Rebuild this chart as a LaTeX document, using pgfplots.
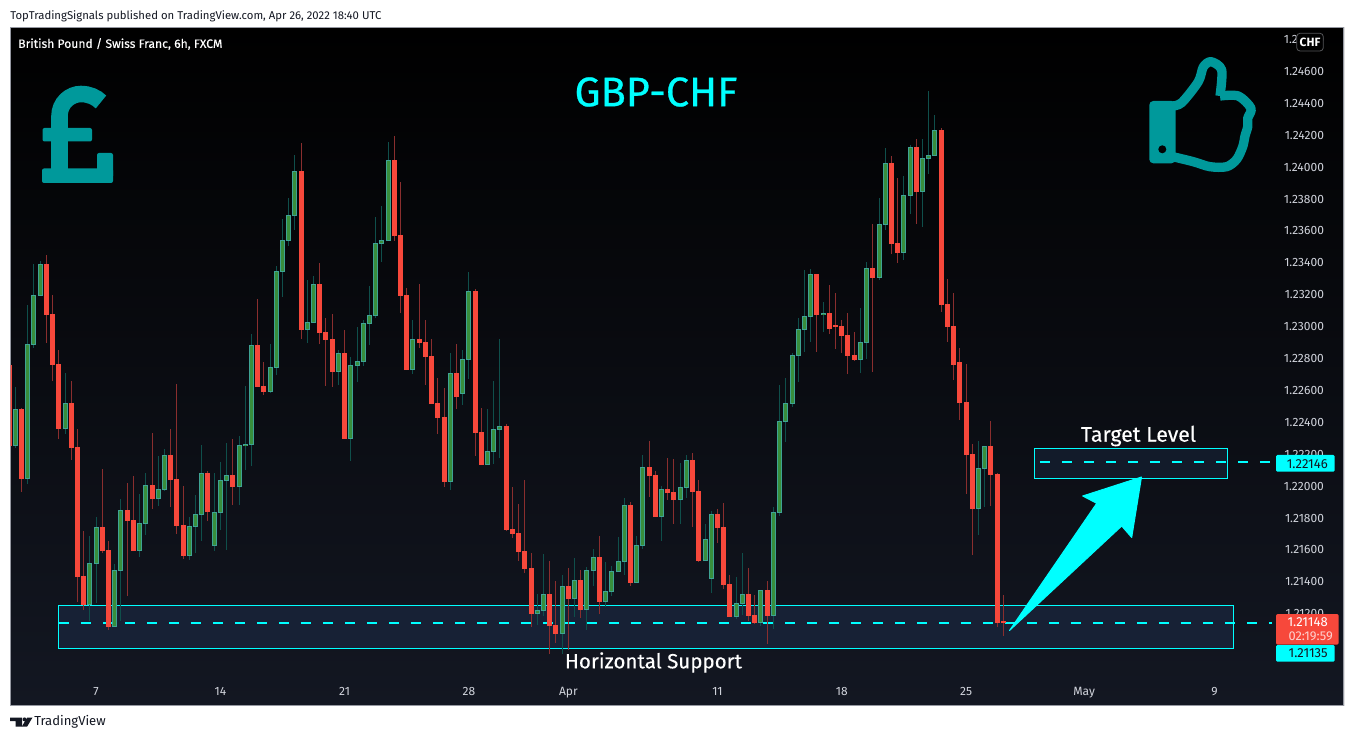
\documentclass[border=0pt]{standalone}
\usepackage{pgfplots}
\usepackage{pgfplotstable}
\pgfplotsset{compat=1.18}
\usepackage{fontspec}
\setmainfont{Fira Sans}
\newfontfamily\medfont[FakeBold=0.25]{Fira Sans}
\newfontfamily\headfont[FakeBold=0.6]{Fira Sans}
\definecolor{tvcyan}{HTML}{00FFFF}
\definecolor{tvteal}{HTML}{00999B}
\definecolor{gwick}{HTML}{0F4F4B}
\definecolor{rwick}{HTML}{8A2E2E}
\definecolor{gedge}{HTML}{3EA394}
\definecolor{gbody}{HTML}{388E3C}
\definecolor{rbody}{HTML}{F7483B}
\definecolor{ink}{HTML}{131722}
\definecolor{ticktext}{HTML}{D1D4DC}
\definecolor{boxA}{HTML}{172135}
\definecolor{boxB}{HTML}{121B2A}
\definecolor{framec}{HTML}{9598A1}
\pgfplotstableread{
i open high low close
0 1.22248 1.22618 1.22235 1.22480
2 1.22043 1.23132 1.22009 1.22885
3 1.22883 1.23389 1.22864 1.23192
4 1.23190 1.23408 1.23190 1.23389
8 1.22354 1.22705 1.22323 1.22515
12 1.21251 1.21683 1.21150 1.21512
13 1.21510 1.21802 1.21263 1.21740
16 1.21113 1.21508 1.21113 1.21470
17 1.21466 1.21915 1.21150 1.21846
20 1.21589 1.21947 1.21552 1.21765
21 1.21759 1.22078 1.21690 1.22003
23 1.21915 1.22185 1.21871 1.21978
24 1.21972 1.22229 1.21966 1.22191
28 1.21558 1.21802 1.21533 1.21746
29 1.21740 1.21940 1.21577 1.21821
30 1.21815 1.22254 1.21652 1.22078
32 1.21621 1.22078 1.21589 1.21834
33 1.21828 1.22147 1.21721 1.22034
34 1.22028 1.22266 1.21596 1.22066
36 1.21991 1.22310 1.21878 1.22254
37 1.22248 1.22624 1.22097 1.22260
38 1.22254 1.22950 1.22122 1.22881
41 1.22586 1.22887 1.22580 1.22743
42 1.22737 1.23376 1.22693 1.23345
43 1.23339 1.23671 1.23182 1.23539
44 1.23533 1.23803 1.23502 1.23696
45 1.23690 1.24072 1.23602 1.23972
47 1.22975 1.23288 1.22893 1.23025
48 1.23019 1.23314 1.23019 1.23263
52 1.22712 1.22850 1.22630 1.22831
54 1.22292 1.22806 1.22154 1.22756
55 1.22749 1.22994 1.22649 1.22781
56 1.22774 1.23038 1.22749 1.23019
57 1.23013 1.23251 1.22881 1.23069
58 1.23063 1.23683 1.23050 1.23520
59 1.23514 1.23752 1.23401 1.23539
60 1.23533 1.24154 1.23533 1.24041
64 1.22724 1.23038 1.22699 1.22919
70 1.22022 1.22831 1.21972 1.22705
72 1.22574 1.22850 1.22505 1.22793
73 1.22787 1.23339 1.22668 1.23220
76 1.22129 1.22480 1.22129 1.22216
77 1.22210 1.22655 1.22135 1.22354
78 1.22348 1.22919 1.22172 1.22373
84 1.21194 1.21320 1.21125 1.21219
85 1.21213 1.21570 1.21182 1.21320
88 1.21069 1.21439 1.20944 1.21370
90 1.21288 1.21545 1.21175 1.21407
92 1.21219 1.21489 1.21094 1.21470
93 1.21464 1.21602 1.21370 1.21552
95 1.21270 1.21520 1.21238 1.21339
96 1.21332 1.21495 1.21307 1.21464
97 1.21458 1.21677 1.21458 1.21527
98 1.21520 1.21922 1.21439 1.21878
100 1.21389 1.21683 1.21389 1.21627
101 1.21621 1.22191 1.21602 1.22116
104 1.21802 1.21997 1.21652 1.21978
107 1.21909 1.22141 1.21759 1.21991
108 1.21984 1.22191 1.21922 1.22160
111 1.21527 1.21759 1.21527 1.21665
112 1.21414 1.21840 1.21326 1.21821
116 1.21175 1.21426 1.21163 1.21263
117 1.21257 1.21577 1.21188 1.21320
120 1.21138 1.21345 1.21119 1.21345
122 1.21182 1.21865 1.21100 1.21834
123 1.21828 1.22630 1.21809 1.22404
124 1.22398 1.22674 1.22273 1.22517
125 1.22511 1.22831 1.22492 1.22818
126 1.22812 1.23050 1.22649 1.22981
127 1.22975 1.23351 1.22837 1.23063
128 1.23056 1.23357 1.22900 1.23326
130 1.23069 1.23151 1.22962 1.23082
136 1.22787 1.23113 1.22705 1.22900
137 1.22893 1.23401 1.22793 1.23364
139 1.23301 1.23803 1.23288 1.23640
140 1.23633 1.24116 1.23602 1.24022
143 1.23458 1.23941 1.23414 1.23821
144 1.23815 1.24135 1.23702 1.24122
146 1.23840 1.24173 1.23621 1.24053
147 1.24047 1.24473 1.23953 1.24072
148 1.24066 1.24323 1.24066 1.24229
155 1.21853 1.22279 1.21690 1.22110
156 1.22103 1.22248 1.21865 1.22248
}\greenbars
\pgfplotstableread{
i open high low close
-1 1.22756 1.22756 1.22248 1.22248
1 1.22480 1.22488 1.21961 1.22041
5 1.23389 1.23445 1.22896 1.23069
6 1.23075 1.23194 1.22655 1.22756
7 1.22762 1.22847 1.22292 1.22354
9 1.22515 1.22655 1.22160 1.22235
10 1.22241 1.22354 1.21270 1.21426
11 1.21433 1.21715 1.21219 1.21251
14 1.21740 1.22103 1.21577 1.21589
15 1.21596 1.21652 1.21094 1.21113
18 1.21846 1.22016 1.21307 1.21777
19 1.21784 1.22060 1.21589 1.21589
22 1.22003 1.22329 1.21853 1.21915
25 1.22191 1.22354 1.21865 1.22034
26 1.22041 1.22636 1.21696 1.21746
27 1.21752 1.21997 1.21539 1.21558
31 1.22078 1.22091 1.21777 1.21834
35 1.22066 1.22292 1.21878 1.21991
39 1.22881 1.23169 1.22618 1.22618
40 1.22624 1.22774 1.22567 1.22586
46 1.23972 1.24147 1.22919 1.22975
49 1.23263 1.23395 1.22887 1.22956
50 1.22962 1.23050 1.22624 1.22912
51 1.22919 1.23075 1.22618 1.22712
53 1.22831 1.22975 1.22292 1.22292
61 1.24041 1.24191 1.23533 1.23564
62 1.23571 1.23903 1.23082 1.23188
63 1.23194 1.23238 1.22724 1.22724
65 1.22919 1.23263 1.22862 1.22893
66 1.22900 1.23038 1.22630 1.22806
67 1.22812 1.22919 1.22511 1.22511
68 1.22517 1.22674 1.22323 1.22423
69 1.22430 1.22611 1.21991 1.22022
71 1.22705 1.22887 1.22480 1.22555
74 1.23220 1.23232 1.22185 1.22329
75 1.22335 1.22486 1.22129 1.22129
79 1.22373 1.22386 1.21715 1.21721
80 1.21727 1.21991 1.21671 1.21696
81 1.21702 1.21884 1.21527 1.21583
82 1.21589 1.22034 1.21451 1.21476
83 1.21483 1.21577 1.21113 1.21194
86 1.21320 1.21527 1.20944 1.21119
87 1.21125 1.21401 1.21012 1.21069
89 1.21370 1.21483 1.20969 1.21288
91 1.21407 1.21470 1.21169 1.21219
94 1.21552 1.21683 1.21194 1.21270
99 1.21878 1.21897 1.21370 1.21389
102 1.22116 1.22279 1.21928 1.22060
103 1.22066 1.22091 1.21802 1.21802
105 1.21978 1.22172 1.21909 1.21953
106 1.21959 1.22166 1.21759 1.21909
109 1.22160 1.22204 1.21740 1.21959
110 1.21966 1.22034 1.21520 1.21527
113 1.21821 1.21853 1.21639 1.21734
114 1.21740 1.21890 1.21351 1.21376
115 1.21382 1.21439 1.21175 1.21175
118 1.21320 1.21483 1.21150 1.21182
119 1.21188 1.21313 1.21132 1.21138
121 1.21345 1.21401 1.21006 1.21182
129 1.23326 1.23326 1.22837 1.23069
131 1.23082 1.23257 1.22950 1.22981
132 1.23006 1.23207 1.22856 1.22994
133 1.23000 1.23038 1.22831 1.22937
134 1.22944 1.23082 1.22699 1.22812
135 1.22818 1.22962 1.22781 1.22787
138 1.23364 1.23640 1.22712 1.23301
141 1.24022 1.24066 1.23451 1.23514
142 1.23520 1.23928 1.23395 1.23458
145 1.24122 1.24173 1.23640 1.23840
149 1.24229 1.24242 1.23088 1.23132
150 1.23138 1.23295 1.22900 1.22994
151 1.23000 1.23207 1.22661 1.22756
152 1.22774 1.22862 1.22411 1.22517
153 1.22524 1.22762 1.21947 1.22191
154 1.22198 1.22260 1.21564 1.21853
157 1.22248 1.22404 1.21871 1.22066
158 1.22072 1.22078 1.21113 1.21138
159 1.21148 1.21313 1.21056 1.21138
}\redbars
\pgfplotsset{
  candle/.style 2 args={draw=none, no marks, forget plot,
    error bars/.cd, y dir=plus, y explicit, error mark=none,
    error bar style={draw=#1, line width=#2}},
}
\tikzset{px/.style={x=0.75pt,y=-0.75pt,shift={(0pt,555pt)}}}
\begin{document}
\begin{tikzpicture}
\path[use as bounding box, fill=white] (0,0) rectangle (1015.5pt,555pt);
\begin{scope}[px]
  \shade[top color=black, bottom color=ink] (10.5,28) rectangle (1344,705);
  \draw[line width=0.75pt, draw=tvcyan, fill=boxA] (58.5,605.5) rectangle (1233.5,648.5);
  \draw[line width=0.75pt, draw=tvcyan, fill=boxB] (1034.5,449) rectangle (1227.5,478.5);
\end{scope}
\begin{axis}[
  at={(7.875pt,26.25pt)}, anchor=south west, scale only axis,
  width=1000.125pt, height=507.75pt,
  xmin=-0.772, xmax=213.82, ymin=1.206238, ymax=1.248683,
  axis line style={draw=framec, line width=0.75pt},
  major tick length=0pt,
  xtick={13,33,53,73,89,113,133,153,172,193},
  xticklabels={7,14,21,28,Apr,11,18,25,May,9},
  xticklabel style={text=ticktext, font=\fontsize{9}{11}\selectfont, yshift=17pt},
  ytick={1.212,1.214,1.216,1.218,1.22,1.222,1.224,1.226,1.228,1.23,1.232,1.234,1.236,1.238,1.24,1.242,1.244,1.246,1.248},
  yticklabel pos=right,
  yticklabel style={text=ticktext, font=\fontsize{9}{11}\selectfont, anchor=east, xshift=-11.5pt, yshift=-0.5pt,
     /pgf/number format/fixed, /pgf/number format/fixed zerofill, /pgf/number format/precision=5,
     /pgf/number format/assume math mode=true},
  scaled y ticks=false,
]
\addplot[forget plot, tvcyan, line width=1.5pt, dash pattern=on 7.5pt off 9pt]
  coordinates {(7.03,1.21135) (202.2,1.21135)};
\addplot[forget plot, tvcyan, line width=1.5pt, dash pattern=on 7.5pt off 9pt]
  coordinates {(164.9,1.22146) (202.2,1.22146)};
% wicks
\addplot[candle={gwick}{0.75pt}] table[x=i, y=low, y error plus expr=\thisrow{high}-\thisrow{low}] {\greenbars};
\addplot[candle={rwick}{0.75pt}] table[x=i, y=low, y error plus expr=\thisrow{high}-\thisrow{low}] {\redbars};
% bodies
\addplot[candle={gedge}{3.75pt}] table[x=i, y=open, y error plus expr=\thisrow{close}-\thisrow{open}] {\greenbars};
\addplot[candle={gbody}{2.25pt}] table[x=i, y expr=\thisrow{open}+0.00005, y error plus expr=\thisrow{close}-\thisrow{open}-0.0001] {\greenbars};
\addplot[candle={rbody}{3.75pt}] table[x=i, y=close, y error plus expr=\thisrow{open}-\thisrow{close}] {\redbars};
\end{axis}
\begin{scope}[px]
  % arrow
  \fill[tvcyan, draw=tvcyan, line width=0.75pt, line join=round]
    (1009.5,630.5) -- (1096.7,503.3) -- (1082.7,496) -- (1141.5,477) -- (1131.7,537.5) -- (1121.7,526) -- cycle;
  % pound icon
  \draw[tvteal, line width=12.4pt] (59.5,170) -- (59.5,116) .. controls (59.5,103) and (70,94) .. (81,94) .. controls (89,94) and (96,97) .. (101,102);
  \fill[tvteal, rounded corners=1.5pt] (42.5,128) rectangle (92,141.5);
  \fill[tvteal, rounded corners=1.5pt] (42,168.5) rectangle (113,183);
  \fill[tvteal, rounded corners=1.5pt] (97,153) rectangle (113,178);
  % thumbs up icon
  \fill[tvteal, rounded corners=3pt] (1149.3,101) rectangle (1175.5,163.3);
  \fill[black!90!ink] (1162.3,149.3) circle[radius=4];
  \draw[tvteal, line width=7pt, line join=round] plot[smooth, tension=0.5] coordinates {
    (1172,106) (1181.7,102.7) (1198.3,81.7) (1203.3,67) (1211,61.7) (1221.7,70) (1220,96)};
  \draw[tvteal, line width=7pt, line join=round] plot[smooth, tension=0.5] coordinates {
    (1220,96) (1238.3,96) (1251,108.3) (1247.7,118.3) (1247.7,126.7) (1245,136) (1242.7,146.7)
    (1236.7,159.3) (1226.7,166.7) (1210,166.7) (1193.3,161.7) (1172,156.5)};
  % text
  \node[anchor=west, text=ink, inner sep=0pt, font=\fontsize{8.5}{11}\selectfont] at (10,16.5)
    {TopTradingSignals published on TradingView.com, Apr 26, 2022 18:40 UTC};
  \node[anchor=west, text=white, inner sep=0pt, font=\medfont\fontsize{9.1}{11}\selectfont] at (18,44)
    {British Pound / Swiss Franc, 6h, FXCM};
  \node[text=tvcyan, inner sep=0pt, font=\headfont\fontsize{31}{35}\selectfont] at (656,92) {GBP-CHF};
  \node[text=white, inner sep=0pt, font=\medfont\fontsize{15.4}{18}\selectfont] at (653.5,662.5) {Horizontal Support};
  \node[text=white, inner sep=0pt, font=\medfont\fontsize{16}{18}\selectfont] at (1138.5,436) {Target Level};
  % price scale badges
  \fill[black, draw=black!60!ticktext, line width=0.6pt, rounded corners=2.5pt] (1296.7,33.3) rectangle (1323.3,51);
  \node[text=white, inner sep=0pt, font=\bfseries\fontsize{9}{11}\selectfont] at (1310,42) {CHF};
  \fill[tvcyan, rounded corners=1pt] (1276,455) rectangle (1334.7,471.7);
  \node[text=ink, inner sep=0pt, anchor=east, font=\fontsize{9.8}{11}\selectfont] at (1328,464) {1.22146};
  \fill[rbody, rounded corners=1.5pt] (1276,614) rectangle (1338.7,644.7);
  \node[text=white, inner sep=0pt, anchor=east, font=\fontsize{9.8}{11}\selectfont] at (1328,622) {1.21148};
  \node[text=white!75!rbody, inner sep=0pt, anchor=east, font=\fontsize{9.6}{11}\selectfont] at (1333,636.5) {02:19:59};
  \fill[tvcyan, rounded corners=1pt] (1276,645) rectangle (1334.7,661.7);
  \node[text=ink, inner sep=0pt, anchor=east, font=\fontsize{9.8}{11}\selectfont] at (1328,653.5) {1.21135};
  % logo
  \fill[ink] (10,717.5) -- (22,717.5) -- (22,726.5) -- (15.5,726.5) -- (15.5,721) -- (10,721) -- cycle;
  \fill[ink] (24.5,719.4) circle[radius=2];
  \fill[ink] (27.2,717.5) -- (32.5,717.5) -- (27.2,726.5) -- (21.8,726.5) -- cycle;
  \node[anchor=west, text=ink, inner sep=0pt, font=\fontsize{9.8}{12}\selectfont] at (34,722) {TradingView};
\end{scope}
\end{tikzpicture}
\end{document}
